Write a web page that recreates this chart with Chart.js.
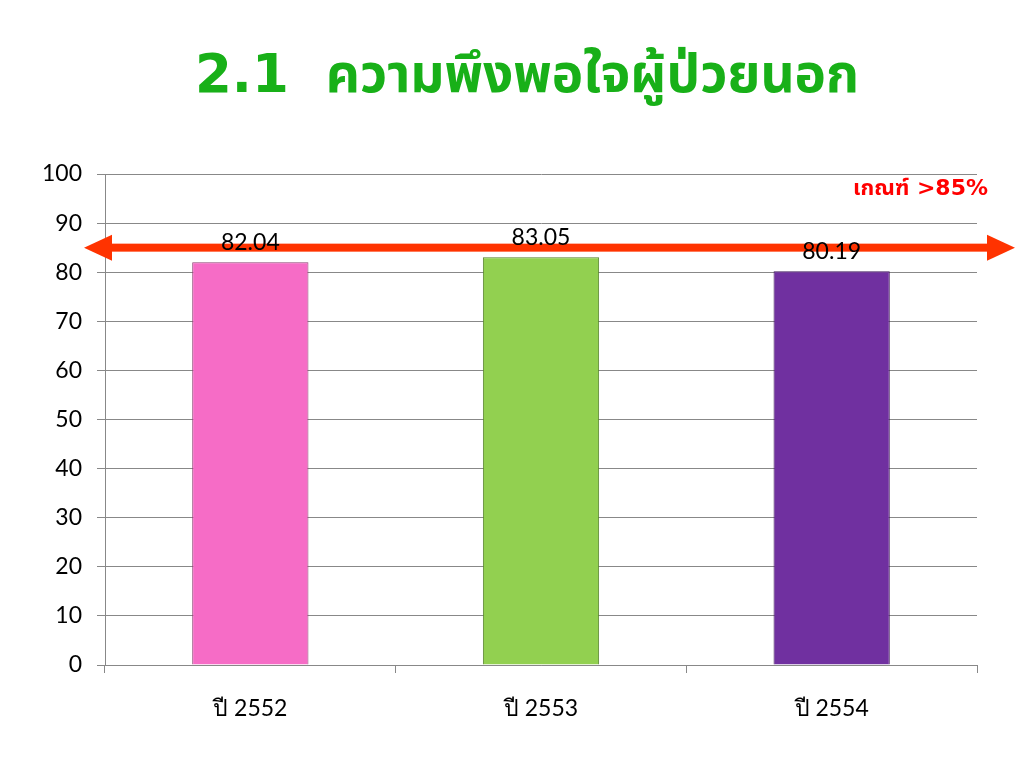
<!DOCTYPE html>
<html>
<head>
<meta charset="utf-8">
<script src="https://cdn.jsdelivr.net/npm/chart.js@4.4.0/dist/chart.umd.min.js"></script>
<style>
  html, body { margin: 0; padding: 0; background: #ffffff; }
  #wrap { width: 1024px; height: 768px; position: relative; }
</style>
</head>
<body>
<div id="wrap"><canvas id="c" width="1024" height="768"></canvas></div>
<script>
const titleText = '2.1  ความพึงพอใจผู้ป่วยนอก';
const categories = ['ปี 2552', 'ปี 2553', 'ปี 2554'];
const values = [82.04, 83.05, 80.19];
const barColors = ['#F66CC6', '#92D050', '#7030A0'];
const barBorders = ['#8E3F73', '#55802C', '#3F1A5C'];
const thresholdValue = 85;
const thresholdLabel = 'เกณฑ์ >85%';
const yMin = 0, yMax = 100, yStep = 10;

const numFont = '"Lato", "Open Sans", "Noto Sans", sans-serif';
const thaiFont = '"DejaVu Sans", "Noto Sans Thai", "Loma", sans-serif';

const overlay = {
  id: 'overlay',
  afterDatasetsDraw(chart) {
    const ctx = chart.ctx;
    const y = chart.scales.y;
    const meta = chart.getDatasetMeta(0);
    // threshold arrow
    const ty = y.getPixelForValue(thresholdValue);
    const x1 = 84, x2 = 1015, head = 28, hh = 13;
    ctx.save();
    ctx.fillStyle = '#FF3300';
    ctx.fillRect(x1 + head - 2, ty - 4, (x2 - x1) - 2 * head + 4, 8);
    ctx.beginPath();
    ctx.moveTo(x1, ty); ctx.lineTo(x1 + head, ty - hh); ctx.lineTo(x1 + head, ty + hh); ctx.closePath(); ctx.fill();
    ctx.beginPath();
    ctx.moveTo(x2, ty); ctx.lineTo(x2 - head, ty - hh); ctx.lineTo(x2 - head, ty + hh); ctx.closePath(); ctx.fill();
    // threshold label
    ctx.fillStyle = '#FF0000';
    ctx.font = 'bold 22px ' + thaiFont;
    ctx.textAlign = 'right';
    ctx.textBaseline = 'middle';
    ctx.fillText(thresholdLabel, 988, 189);
    ctx.restore();
    // value labels (on top of arrow)
    ctx.save();
    ctx.fillStyle = '#000';
    ctx.font = '23px ' + numFont;
    ctx.textAlign = 'center';
    ctx.textBaseline = 'middle';
    meta.data.forEach((bar, i) => {
      ctx.fillText(values[i].toFixed(2), bar.x, bar.y - 20);
    });
    ctx.restore();
  },
  afterDraw(chart) {
    const ctx = chart.ctx;
    ctx.save();
    ctx.fillStyle = '#18B018';
    ctx.font = 'bold 53px ' + thaiFont;
    ctx.textAlign = 'center';
    ctx.textBaseline = 'middle';
    ctx.fillText(titleText, 527, 78);
    ctx.restore();
  }
};

new Chart(document.getElementById('c'), {
  type: 'bar',
  data: {
    labels: categories,
    datasets: [{
      data: values,
      backgroundColor: barColors,
      borderColor: barBorders,
      borderWidth: 1,
      barPercentage: 0.4,
      categoryPercentage: 1.0
    }]
  },
  options: {
    responsive: false,
    animation: false,
    devicePixelRatio: 1,
    layout: { padding: { top: 174, right: 47, left: 0, bottom: 0 } },
    plugins: { legend: { display: false }, tooltip: { enabled: false }, title: { display: false } },
    scales: {
      x: {
        grid: { display: true, drawOnChartArea: false, drawTicks: true, tickLength: 8, color: '#888888', offset: true },
        border: { display: true, color: '#888888' },
        ticks: { color: '#000', font: { size: 23, family: numFont }, padding: 22 },
        afterFit(scale) { scale.height = 103; }
      },
      y: {
        min: yMin, max: yMax,
        ticks: { stepSize: yStep, color: '#000', font: { size: 23, family: numFont }, padding: 15 },
        grid: { color: '#888888', tickLength: 8 },
        border: { display: true, color: '#888888' },
        afterFit(scale) { scale.width = 105; }
      }
    }
  },
  plugins: [overlay]
});
</script>
</body>
</html>
